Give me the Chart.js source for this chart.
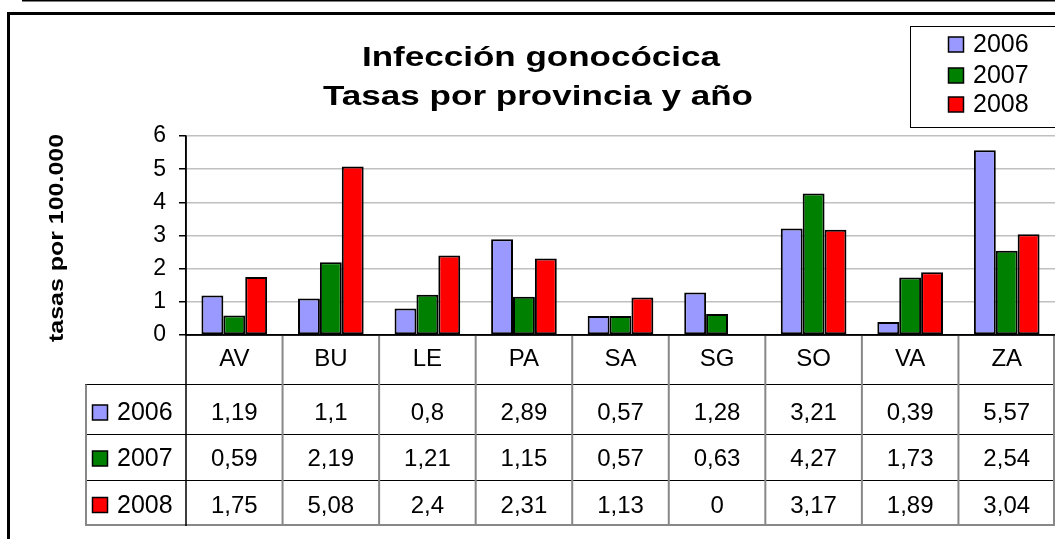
<!DOCTYPE html>
<html lang="es">
<head>
    <meta charset="UTF-8">
    <title>Infección gonocócica</title>
    <script src="https://cdn.jsdelivr.net/npm/chart.js"></script>
    <style>
        body {
            margin: 0;
            padding: 0;
            background: #fff;
        }

        .wrap {
            width: 1055px;
            height: 539px;
            position: relative;
        }
    </style>
</head>
<body>
    <div class="wrap">
        <canvas id="chart"></canvas>
    </div>

    <script>
        // data
        const provincias = ['AV', 'BU', 'LE', 'PA', 'SA', 'SG', 'SO', 'VA', 'ZA'];
        const anios = ['2006', '2007', '2008'];
        const tasas2006 = [1.19, 1.1, 0.8, 2.89, 0.57, 1.28, 3.21, 0.39, 5.57];
        const tasas2007 = [0.59, 2.19, 1.21, 1.15, 0.57, 0.63, 4.27, 1.73, 2.54];
        const tasas2008 = [1.75, 5.08, 2.4, 2.31, 1.13, 0, 3.17, 1.89, 3.04];
        const yTicks = [0, 1, 2, 3, 4, 5, 6];

        const colores = ['#9999FF', '#008000', '#FF0000'];
        const series = [tasas2006, tasas2007, tasas2008];
        const FONT = "'Liberation Sans', Arial, sans-serif";

        const fmt = v => String(v).replace('.', ',');

        // the original titles are stretched sideways, so scale the text to a width
        function stretchedText(ctx, text, cx, y, width) {
            const natural = ctx.measureText(text).width;
            ctx.save();
            ctx.translate(cx, y);
            ctx.scale(width / natural, 1);
            ctx.textAlign = 'center';
            ctx.fillText(text, 0, 0);
            ctx.restore();
        }

        function swatch(ctx, x, y, color) {
            ctx.fillStyle = color;
            ctx.fillRect(x, y, 15, 15);
            ctx.strokeStyle = '#000';
            ctx.lineWidth = 1.5;
            ctx.strokeRect(x, y, 15, 15);
        }

        const extras = {
            id: 'extras',
            afterDraw(chart) {
                const ctx = chart.ctx;
                const xs = chart.scales.x;
                const area = chart.chartArea;
                const catW = (xs.right - xs.left) / provincias.length;
                ctx.save();
                ctx.fillStyle = '#000';
                ctx.textBaseline = 'alphabetic';

                // title
                ctx.font = 'bold 27px ' + FONT;
                stretchedText(ctx, 'Infección gonocócica', 541, 66, 358);
                stretchedText(ctx, 'Tasas por provincia y año', 538, 105, 430);

                // y axis title
                ctx.save();
                ctx.translate(63, 238);
                ctx.rotate(-Math.PI / 2);
                ctx.font = 'bold 20px ' + FONT;
                stretchedText(ctx, 'tasas por 100.000', 0, 0, 208);
                ctx.restore();

                // legend box
                ctx.fillStyle = '#fff';
                ctx.fillRect(910.5, 26.5, 160, 101);
                ctx.strokeStyle = '#000';
                ctx.lineWidth = 1;
                ctx.strokeRect(910.5, 26.5, 160, 101);
                const legBase = [52, 83, 112];
                ctx.font = '25px ' + FONT;
                anios.forEach((a, i) => {
                    swatch(ctx, 948.5, legBase[i] - 15, colores[i]);
                    ctx.fillStyle = '#000';
                    ctx.textAlign = 'left';
                    ctx.fillText(a, 973, legBase[i]);
                });

                // data table under the axis
                const top = area.bottom;
                const rows = [384.5, 434.5, 480.5];
                const bottom = 525;
                ctx.strokeStyle = '#000';
                ctx.lineWidth = 1;
                rows.forEach(y => {
                    ctx.beginPath();
                    ctx.moveTo(85, y);
                    ctx.lineTo(1055, y);
                    ctx.stroke();
                });
                ctx.strokeStyle = '#888';
                ctx.lineWidth = 2;
                ctx.beginPath();
                ctx.moveTo(85, bottom);
                ctx.lineTo(1055, bottom);
                ctx.moveTo(86, rows[0]);
                ctx.lineTo(86, bottom + 1);
                for (let i = 1; i <= provincias.length; i++) {
                    const x = Math.min(xs.left + i * catW, 1054);
                    ctx.moveTo(x, top);
                    ctx.lineTo(x, bottom + 1);
                }
                ctx.stroke();
                ctx.strokeStyle = '#000';
                ctx.lineWidth = 1.5;
                ctx.beginPath();
                ctx.moveTo(xs.left, area.top);
                ctx.lineTo(xs.left, bottom + 1);
                ctx.moveTo(xs.left, top);
                ctx.lineTo(1055, top);
                ctx.stroke();

                ctx.fillStyle = '#000';
                ctx.font = '24px ' + FONT;
                ctx.textAlign = 'center';
                provincias.forEach((p, i) => {
                    ctx.fillText(p, xs.getPixelForValue(i), 366);
                });
                const baselines = [420, 466, 512.5];
                series.forEach((vals, r) => {
                    swatch(ctx, 92.5, baselines[r] - 15, colores[r]);
                    ctx.fillStyle = '#000';
                    ctx.textAlign = 'left';
                    ctx.font = '25px ' + FONT;
                    ctx.fillText(anios[r], 117, baselines[r]);
                    ctx.textAlign = 'center';
                    ctx.font = '24px ' + FONT;
                    vals.forEach((v, i) => {
                        ctx.fillText(fmt(v), xs.getPixelForValue(i), baselines[r]);
                    });
                });

                // outer frame
                ctx.strokeStyle = '#000';
                ctx.lineWidth = 3;
                ctx.beginPath();
                ctx.moveTo(8.5, 545);
                ctx.lineTo(8.5, 13.5);
                ctx.lineTo(1060, 13.5);
                ctx.stroke();
                ctx.lineWidth = 1.5;
                ctx.beginPath();
                ctx.moveTo(22, 0.75);
                ctx.lineTo(1055, 0.75);
                ctx.stroke();
                ctx.restore();
            }
        };

        const ctx = document.getElementById('chart').getContext('2d');
        new Chart(ctx, {
            type: 'bar',
            data: {
                labels: provincias,
                datasets: anios.map((a, i) => ({
                    label: a,
                    data: series[i],
                    backgroundColor: colores[i],
                    borderColor: '#000',
                    borderWidth: 2,
                    borderSkipped: false,
                    categoryPercentage: 0.68,
                    barPercentage: 1.0
                }))
            },
            options: {
                responsive: true,
                maintainAspectRatio: false,
                animation: false,
                layout: {
                    padding: { top: 136, right: 0, bottom: 0, left: 0 }
                },
                plugins: {
                    legend: { display: false },
                    title: { display: false },
                    tooltip: { enabled: false }
                },
                scales: {
                    x: {
                        ticks: { display: false },
                        grid: { display: false },
                        border: { display: true, color: '#000', width: 1.5 },
                        afterFit: s => { s.height = 204; }
                    },
                    y: {
                        min: 0,
                        max: 6,
                        afterBuildTicks: s => { s.ticks = yTicks.map(v => ({ value: v })); },
                        ticks: {
                            color: '#000',
                            padding: 13,
                            font: { family: FONT, size: 23 }
                        },
                        grid: {
                            color: '#c0c0c0',
                            tickColor: '#000',
                            tickLength: 7,
                            lineWidth: 1.5
                        },
                        border: { color: '#000', width: 1.5 },
                        afterFit: s => { s.width = 186; }
                    }
                }
            },
            plugins: [extras]
        });
    </script>
</body>
</html>
